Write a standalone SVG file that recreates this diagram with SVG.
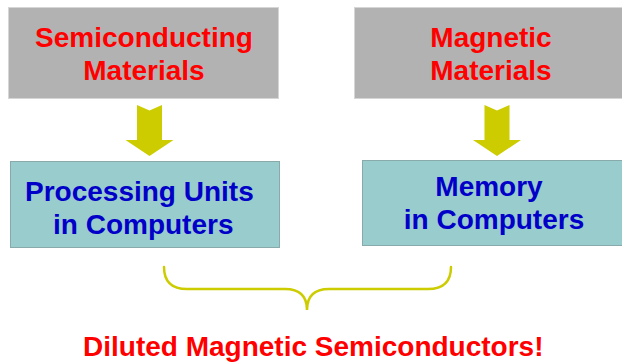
<svg xmlns="http://www.w3.org/2000/svg" width="622" height="363" viewBox="0 0 622 363">
<style>
.gray{fill:#b2b2b2;stroke:#d6d6d6;stroke-width:1}
.teal{fill:#99cccc;stroke:#88aaaa;stroke-width:1}
.t{font-family:"Liberation Sans",Arial,sans-serif;font-weight:bold;font-size:28px}
.red{fill:#ff0000}
.blue{fill:#0000c8}
.arrow{fill:#cccc00}
.brace{fill:none;stroke:#cccc00;stroke-width:2.5;stroke-linecap:round}
</style>
<rect x="0" y="0" width="622" height="363" fill="#ffffff"/>
<g id="semiconducting">
<rect class="gray" x="8.5" y="7.5" width="270" height="91"/>
<text class="t red" x="144" y="47" text-anchor="middle">Semiconducting</text>
<text class="t red" x="144" y="80" text-anchor="middle">Materials</text>
</g>
<g id="magnetic">
<rect class="gray" x="354.5" y="7.5" width="270" height="91"/>
<text class="t red" x="491" y="47" text-anchor="middle">Magnetic</text>
<text class="t red" x="491" y="80" text-anchor="middle">Materials</text>
</g>
<g id="processing">
<rect class="teal" x="10.5" y="161.5" width="269" height="86"/>
<text class="t blue" x="25" y="201">Processing Units</text>
<text class="t blue" x="53" y="234">in Computers</text>
</g>
<g id="memory">
<rect class="teal" x="362.5" y="160.5" width="262" height="85"/>
<text class="t blue" x="489" y="196" text-anchor="middle">Memory</text>
<text class="t blue" x="494" y="229" text-anchor="middle">in Computers</text>
</g>
<g id="dms">
<text class="t red" x="83" y="356">Diluted Magnetic Semiconductors!</text>
</g>
<g id="connectors">
<polygon class="arrow" points="137,105 149.5,110.5 162,105 162,140 173.5,140 149.5,156 125.5,140 137,140"/>
<polygon class="arrow" points="484.5,105 497,110.5 509.5,105 509.5,140 521,140 497,156 473,140 484.5,140"/>
<path class="brace" d="M164,267 Q164,289 187,289 L285,289 Q307,289 307,310 Q307,289 329,289 L428,289 Q451,289 451,267"/>
</g>
</svg>
